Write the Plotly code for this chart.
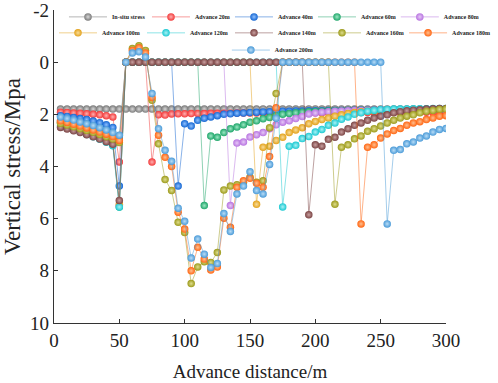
import plotly.graph_objects as go

# Advance distance (m)
distance = list(range(5, 305, 5))

series_names = ["In-situ stress", "Advance 20m", "Advance 40m", "Advance 60m", "Advance 80m",
                "Advance 100m", "Advance 120m", "Advance 140m", "Advance 160m", "Advance 180m",
                "Advance 200m"]

in_situ = [1.8] * 60

adv20 = ([1.92, 1.93, 1.95, 1.96, 1.98, 2.0, 2.02, 2.05, 2.1, 3.83,
          0, 0, 0, 0, 3.83,
          2.02, 2.03, 1.99, 1.98, 1.98, 1.97, 1.97, 1.97, 1.96, 1.96,
          1.96, 1.96, 1.95, 1.95, 1.95, 1.95, 1.95, 1.95, 1.95, 1.94,
          1.94, 1.94, 1.94, 1.94, 1.94, 1.94, 1.93, 1.93, 1.93, 1.93,
          1.93, 1.93, 1.93, 1.93, 1.92, 1.92, 1.92, 1.92, 1.92, 1.92,
          1.92, 1.92, 1.92, 1.92, 1.92])

adv40 = ([2.05, 2.08, 2.12, 2.16, 2.2, 2.26, 2.32, 2.4, 2.5, 4.75,
          0, 0, 0, 0, 0, 0, 0, 0, 4.75,
          2.36, 2.45, 2.23, 2.15, 2.1, 2.05, 2.0, 1.98, 1.96, 1.95,
          1.93, 1.92, 1.91, 1.9, 1.89, 1.88, 1.88, 1.87, 1.87, 1.86,
          1.86, 1.86, 1.85, 1.85, 1.85, 1.85, 1.84, 1.84, 1.84, 1.84,
          1.84, 1.83, 1.83, 1.83, 1.83, 1.83, 1.83, 1.82, 1.82, 1.82, 1.82])

adv60 = ([2.3, 2.36, 2.44, 2.52, 2.6, 2.7, 2.82, 2.96, 3.15, 5.55,
          0, 0, 0, 0, 0, 0, 0, 0, 0, 0, 0, 0, 5.5,
          2.83, 2.88, 2.7, 2.55, 2.49, 2.4, 2.3, 2.25, 2.17, 2.12,
          2.05, 2.0, 1.97, 1.94, 1.92, 1.9, 1.89, 1.88, 1.87, 1.86,
          1.86, 1.85, 1.85, 1.84, 1.84, 1.84, 1.83, 1.83, 1.83, 1.83,
          1.82, 1.82, 1.82, 1.82, 1.82, 1.81, 1.81])

adv80 = ([2.25, 2.32, 2.4, 2.48, 2.57, 2.67, 2.78, 2.92, 3.1, 5.5,
          0, 0, 0, 0, 0, 0, 0, 0, 0, 0, 0, 0, 0, 0, 0, 0, 5.5,
          3.1, 3.06, 2.87, 2.78, 2.7, 2.55, 2.4, 2.3, 2.25, 2.16,
          2.08, 1.99, 1.95, 1.92, 1.9, 1.88, 1.87, 1.86, 1.85, 1.85,
          1.84, 1.84, 1.83, 1.83, 1.83, 1.82, 1.82, 1.82, 1.82, 1.81,
          1.81, 1.81, 1.81])

adv100 = ([2.3, 2.37, 2.45, 2.53, 2.62, 2.71, 2.8, 2.9, 3.0, 5.45,
           0, 0, 0, 0, 0, 0, 0, 0, 0, 0, 0, 0, 0, 0, 0, 0, 0, 0, 0, 0, 5.45,
           3.26, 3.22, 3.0, 2.88, 2.7, 2.6, 2.51, 2.36, 2.27, 2.2,
           2.14, 2.07, 2.02, 1.97, 1.93, 1.9, 1.88, 1.87, 1.86, 1.85,
           1.84, 1.84, 1.83, 1.83, 1.82, 1.82, 1.82, 1.81, 1.81])

adv120 = ([2.45, 2.52, 2.6, 2.68, 2.77, 2.86, 2.96, 3.07, 3.2, 5.55,
           0, 0, 0, 0, 0, 0, 0, 0, 0, 0, 0, 0, 0, 0, 0, 0, 0, 0, 0, 0,
           0, 0, 0, 0, 5.55,
           3.22, 3.19, 2.93, 2.85, 2.68, 2.58, 2.42, 2.33, 2.19, 2.1,
           2.0, 1.94, 1.88, 1.85, 1.82, 1.81, 1.8, 1.8, 1.8, 1.79,
           1.79, 1.79, 1.78, 1.78, 1.78])

adv140 = ([2.5, 2.56, 2.63, 2.7, 2.78, 2.86, 2.95, 3.05, 3.15, 5.3,
           0, 0, 0, 0, 0, 0, 0, 0, 0, 0, 0, 0, 0, 0, 0, 0, 0, 0, 0, 0,
           0, 0, 0, 0, 0, 0, 0, 0, 5.85,
           3.17, 3.22, 2.96, 2.88, 2.68, 2.55, 2.42, 2.33, 2.23, 2.14,
           2.07, 2.02, 1.94, 1.9, 1.86, 1.84, 1.82, 1.8, 1.79, 1.78, 1.78])

adv160 = ([2.35, 2.41, 2.48, 2.55, 2.62, 2.69, 2.77, 2.86, 2.95, 3.08,
           0, -0.52, -0.63, -0.45, 1.46, 3.13, 4.5, 4.92, 6.14, 6.53,
           8.49, 7.85, 7.65, 7.68, 7.3, 4.9, 4.75, 4.7, 4.6, 4.41,
           4.6, 4.55, 2.51, 1.2,
           0, 0, 0, 0, 0, 0, 0, 0, 5.45,
           3.26, 3.17, 2.94, 2.83, 2.65, 2.55, 2.45, 2.33, 2.23, 2.14,
           2.07, 2.02, 1.94, 1.88, 1.85, 1.81, 1.8])

adv180 = ([2.25, 2.31, 2.38, 2.45, 2.52, 2.6, 2.68, 2.76, 2.85, 3.0,
           0, -0.45, -0.55, -0.35, 1.35, 2.8, 3.65, 4.0, 5.75, 6.4,
           8.0, 7.1, 7.55, 7.97, 7.85, 5.98, 6.33, 4.8, 4.55, 4.45,
           4.64, 4.8, 3.62, 1.75,
           0, 0, 0, 0, 0, 0, 0, 0, 0, 0, 0, 0, 6.2,
           3.26, 3.17, 2.91, 2.75, 2.62, 2.54, 2.42, 2.33, 2.28, 2.2,
           2.14, 2.07, 2.05])

adv200 = ([2.1, 2.16, 2.22, 2.29, 2.36, 2.43, 2.51, 2.6, 2.7, 2.8,
           0, -0.35, -0.4, -0.2, 1.2, 2.55, 3.38, 3.8, 5.6, 6.1,
           7.51, 6.78, 7.36, 7.87, 7.72, 5.8, 6.49, 5.05, 4.75, 4.2,
           4.92, 5.05, 3.92, 2.15,
           0, 0, 0, 0, 0, 0, 0, 0, 0, 0, 0, 0, 0, 0, 0, 0, 6.2,
           3.38, 3.35, 3.13, 3.06, 2.91, 2.83, 2.68, 2.58, 2.54])

all_series = [in_situ, adv20, adv40, adv60, adv80, adv100, adv120, adv140, adv160, adv180, adv200]
for s in all_series:
    if len(s) != len(distance):
        raise ValueError("length mismatch %d" % len(s))

colors = ["#7a7a7a", "#f23a3a", "#1466d2", "#1fa66a", "#b874e0", "#e3a21c",
          "#1cc9d2", "#7b4444", "#9c9a1c", "#ff6612", "#4b9bd8"]
lines = ["rgba(150,150,150,0.7)", "rgba(242,58,58,0.5)", "rgba(20,102,210,0.5)",
         "rgba(31,166,106,0.5)", "rgba(184,116,224,0.5)", "rgba(227,162,28,0.5)",
         "rgba(28,201,210,0.5)", "rgba(123,68,68,0.5)", "rgba(156,154,28,0.5)",
         "rgba(255,102,18,0.5)", "rgba(75,155,216,0.5)"]
highlights = ["#d8d8d8", "#ffb0b0", "#8fc0ff", "#9de8c4", "#e6c8f7", "#f8dc98",
              "#a8f2f5", "#c9a0a0", "#dedd8c", "#ffbf90", "#b8dcf6"]
# legend rows split into separate legend boxes so each row keeps its place
legend_ids = ["legend"] * 4 + ["legend4"] + ["legend2"] * 4 + ["legend5"] + ["legend3"]

fig = go.Figure()
for name, ys, c, lc, hc, lg in zip(series_names, all_series, colors, lines, highlights, legend_ids):
    fig.add_trace(go.Scatter(
        x=distance, y=ys, name=name, mode="lines+markers", legend=lg,
        line=dict(color=lc, width=1),
        marker=dict(color=c, size=7.5, line=dict(width=0),
                    gradient=dict(type="radial", color=hc)),
    ))

leg_font = dict(family="Liberation Serif", size=6, color="#222222", weight="bold")
leg_common = dict(orientation="h", xanchor="left", yanchor="middle",
                  font=leg_font, bgcolor="rgba(0,0,0,0)", itemwidth=38,
                  entrywidthmode="pixels")

fig.update_layout(
    width=498, height=383,
    margin=dict(l=54, r=52, t=10, b=60, autoexpand=False),
    paper_bgcolor="white", plot_bgcolor="white",
    font=dict(family="Liberation Serif", color="#222222"),
    showlegend=True,
    legend=dict(x=0.0255, y=0.978, entrywidth=30, **leg_common),
    legend4=dict(x=0.872, y=0.978, entrywidth=30, **leg_common),
    legend2=dict(x=0.0, y=0.927, entrywidth=35, **leg_common),
    legend5=dict(x=0.893, y=0.927, entrywidth=35, **leg_common),
    legend3=dict(x=0.441, y=0.872, entrywidth=40, **leg_common),
    xaxis=dict(range=[0, 300], tickvals=[0, 50, 100, 150, 200, 250, 300],
               ticks="inside", ticklen=4, tickwidth=1.2, tickcolor="#333",
               showline=True, linecolor="#333", linewidth=1.3, showgrid=False, zeroline=False,
               ticklabeloverflow="allow",
               tickfont=dict(family="Liberation Serif", size=19, color="#222"),
               title=dict(text="Advance distance/m", font=dict(family="Liberation Serif", size=19, color="#222"),
                          standoff=14)),
    yaxis=dict(range=[10, -2], tickvals=[-2, 0, 2, 4, 6, 8, 10],
               ticktext=["-2", "0", "2", "4", "6", "8", "10"],
               ticks="inside", ticklen=4, tickwidth=1.2, tickcolor="#333",
               showline=True, linecolor="#333", linewidth=1.3, showgrid=False, zeroline=False,
               ticklabeloverflow="allow",
               tickfont=dict(family="Liberation Serif", size=19, color="#222"),
               title=dict(text="Vertical stress/Mpa", font=dict(family="Liberation Serif", size=23, color="#222"),
                          standoff=6)),
)

fig.write_html("out.html", config={"displayModeBar": False},
               post_script="document.body.style.margin='0';")
